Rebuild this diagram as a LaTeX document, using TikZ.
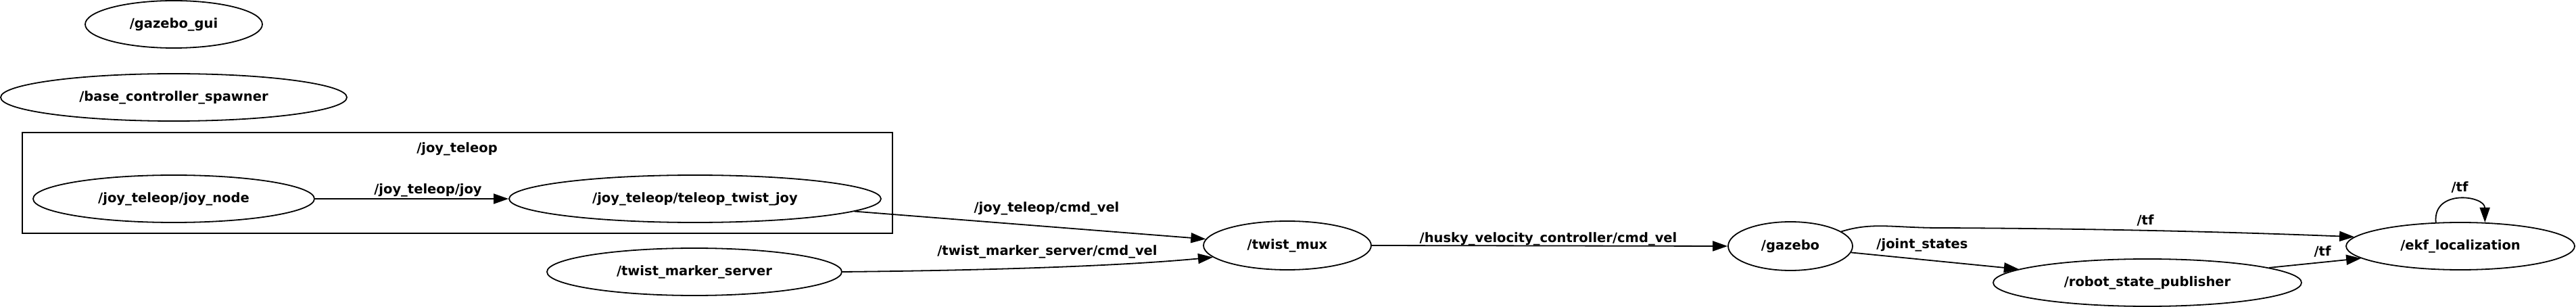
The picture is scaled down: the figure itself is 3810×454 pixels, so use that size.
\documentclass[tikz,border=0pt]{standalone}
\usepackage{fontspec}
\setmainfont{DejaVu Sans}
\usetikzlibrary{shapes.geometric,arrows.meta}
\begin{document}
\begin{tikzpicture}[x=1pt,y=-1pt,
  txt/.style={font=\fontsize{19.5}{23}\bfseries\selectfont},
  nd/.style 2 args={ellipse,draw,line width=1.8pt,inner sep=0pt,txt,minimum width=#1,minimum height=#2},
  lbl/.style={txt,inner sep=0pt},
  conn/.style={line width=1.8pt,-{Triangle[length=22pt,width=15pt]}},
  clusterbox/.style={draw,line width=1.8pt}]
\useasboundingbox (0,0) rectangle (3810,454);
% cluster
\draw[clusterbox] (33,196) rectangle (1320,345);
\node[lbl] (cl) at (676,220) {/joy\_teleop};
% nodes
\node[nd={262pt}{70pt}] (gui) at (257,36) {/gazebo\_gui};
\node[nd={512pt}{70pt}] (bcs) at (257,144) {/base\_controller\_spawner};
\node[nd={416pt}{70pt}] (joy) at (257,294) {/joy\_teleop/joy\_node};
\node[nd={550pt}{70pt}] (tele) at (1028,294) {/joy\_teleop/teleop\_twist\_joy};
\node[nd={436pt}{70pt}] (tms) at (1027,402) {/twist\_marker\_server};
\node[nd={248pt}{72pt}] (mux) at (1904,363) {/twist\_mux};
\node[nd={184pt}{72pt}] (gz) at (2648,364) {/gazebo};
\node[nd={456pt}{70pt}] (rsp) at (3176,418) {/robot\_state\_publisher};
\node[nd={338pt}{70pt}] (ekf) at (3639,364) {/ekf\_localization};
% edges
\draw[conn] (joy.east) -- (tele.west);
\node[lbl] at (633,281) {/joy\_teleop/joy};
\draw[conn] (tele) -- (mux);
\node[lbl] at (1548,308) {/joy\_teleop/cmd\_vel};
\draw[conn] (tms.east) .. controls (1450,400) and (1650,394) .. (mux.189);
\node[lbl] at (1549,372) {/twist\_marker\_server/cmd\_vel};
\draw[conn] (mux.east) -- (gz.west);
\node[lbl] at (2290,353) {/husky\_velocity\_controller/cmd\_vel};
\draw[conn] (gz.16) .. controls (2770,328) and (2800,337) .. (2870,337) .. controls (3100,338) and (3300,343) .. (ekf.175);
\node[lbl] at (3173,326) {/tf};
\draw[conn] (gz.-6) -- (rsp.174);
\node[lbl] at (2843,362) {/joint\_states};
\draw[conn] (rsp.7) -- (ekf.187);
\node[lbl] at (3435,372) {/tf};
\draw[conn] (ekf.136) .. controls (3598,279) and (3675,289) .. (ekf.44);
\node[lbl] at (3638,277) {/tf};
\end{tikzpicture}
\end{document}
